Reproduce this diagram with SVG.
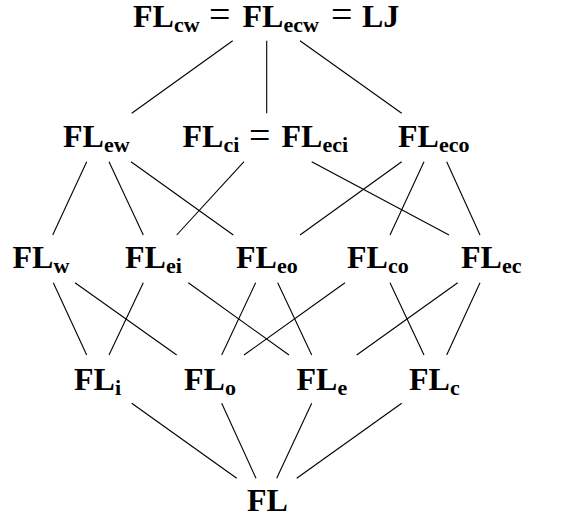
<svg xmlns="http://www.w3.org/2000/svg" width="562" height="517" viewBox="0 0 562 517">
<style>
text{font-family:"Liberation Serif","Times New Roman",serif;font-weight:bold;font-size:32px;fill:#000}
.s{font-size:22px}
.e{font-weight:normal;font-size:38px}
#edges line{stroke:#000;stroke-width:1.1;fill:none}
</style>
<rect width="562" height="517" fill="#fff"/>
<g id="edges">
<line x1="232.7" y1="40.7" x2="131.7" y2="113.3"/>
<line x1="266.7" y1="40.7" x2="266.7" y2="113.3"/>
<line x1="300" y1="40.7" x2="401.7" y2="113.3"/>
<line x1="86.7" y1="161.7" x2="52.7" y2="235"/>
<line x1="109" y1="161.7" x2="143.3" y2="235"/>
<line x1="131" y1="161.7" x2="233.3" y2="235"/>
<line x1="244" y1="161.7" x2="176.7" y2="235"/>
<line x1="311.7" y1="161.7" x2="449" y2="235"/>
<line x1="401.7" y1="161.7" x2="300" y2="235"/>
<line x1="424" y1="161.7" x2="390" y2="235"/>
<line x1="446.7" y1="161.7" x2="480" y2="235"/>
<line x1="53.3" y1="282.7" x2="86.7" y2="355"/>
<line x1="75" y1="282.7" x2="176.7" y2="355"/>
<line x1="143.3" y1="282.7" x2="109" y2="355"/>
<line x1="188.3" y1="282.7" x2="289" y2="355"/>
<line x1="255.7" y1="282.7" x2="221.7" y2="355"/>
<line x1="277.7" y1="282.7" x2="311.7" y2="355"/>
<line x1="345" y1="282.7" x2="244" y2="355"/>
<line x1="390" y1="282.7" x2="424" y2="355"/>
<line x1="457.7" y1="282.7" x2="356.7" y2="355"/>
<line x1="480" y1="282.7" x2="446.7" y2="355"/>
<line x1="131.7" y1="403.3" x2="236.7" y2="478.3"/>
<line x1="221.7" y1="403.3" x2="256" y2="478.3"/>
<line x1="311.7" y1="403.3" x2="276.7" y2="478.3"/>
<line x1="401.7" y1="403.3" x2="296.7" y2="478.3"/>
</g>
<g id="n-top">
<text x="133" y="26.5">FL<tspan class="s" dy="5">cw</tspan></text>
<text class="e" x="209" y="27">=</text>
<text x="242.5" y="26.5">FL<tspan class="s" dy="5">ecw</tspan></text>
<text class="e" x="331" y="27">=</text>
<text x="362" y="26.5">LJ</text>
</g>
<g id="n-ew"><text x="63" y="147">FL<tspan class="s" dy="5">ew</tspan></text></g>
<g id="n-ci">
<text x="182.5" y="147">FL<tspan class="s" dy="5">ci</tspan></text>
<text class="e" x="249" y="147.5">=</text>
<text x="281.5" y="147">FL<tspan class="s" dy="5">eci</tspan></text>
</g>
<g id="n-eco"><text x="398" y="147">FL<tspan class="s" dy="5">eco</tspan></text></g>
<g id="n-w"><text x="12.5" y="268">FL<tspan class="s" dy="5">w</tspan></text></g>
<g id="n-ei"><text x="125" y="268">FL<tspan class="s" dy="5">ei</tspan></text></g>
<g id="n-eo"><text x="236" y="268">FL<tspan class="s" dy="5">eo</tspan></text></g>
<g id="n-co"><text x="347" y="268">FL<tspan class="s" dy="5">co</tspan></text></g>
<g id="n-ec"><text x="461" y="268">FL<tspan class="s" dy="5">ec</tspan></text></g>
<g id="n-i"><text x="74" y="389.5">FL<tspan class="s" dy="5">i</tspan></text></g>
<g id="n-o"><text x="184" y="389.5">FL<tspan class="s" dy="5">o</tspan></text></g>
<g id="n-e"><text x="296.5" y="389.5">FL<tspan class="s" dy="5">e</tspan></text></g>
<g id="n-c"><text x="409" y="389.5">FL<tspan class="s" dy="5">c</tspan></text></g>
<g id="n-fl"><text x="247" y="511">FL</text></g>
</svg>
